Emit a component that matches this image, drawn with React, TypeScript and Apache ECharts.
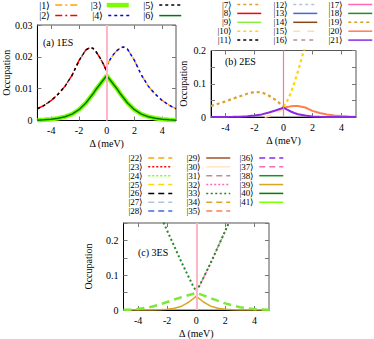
import React, { useEffect, useRef } from 'react';
import * as echarts from 'echarts';

const FONT = 'Liberation Serif, serif';

// ---------- data: panel (a) 1ES ----------
const deltaA_left = [-5, -4.5, -4, -3.5, -3, -2.5, -2, -1.5, -1.2, -1, -0.75, -0.5, -0.25, 0];
const occA_left = [0.0037, 0.0048, 0.0063, 0.0083, 0.0108, 0.0142, 0.0188, 0.0222, 0.0229, 0.0227, 0.0215, 0.0198, 0.0178, 0.0155];
const deltaA_right = [0, 0.25, 0.5, 0.75, 1, 1.2, 1.5, 2, 2.5, 3, 3.5, 4, 4.5, 5];
const occA_right = [0.0172, 0.0192, 0.0208, 0.022, 0.0228, 0.0231, 0.0224, 0.0189, 0.0143, 0.0108, 0.0083, 0.0063, 0.0048, 0.0037];
const deltaA_mid = [-5, -4.5, -4, -3.5, -3, -2.5, -2, -1.5, -1, -0.75, -0.5, -0.25, 0, 0.25, 0.5, 0.75, 1, 1.5, 2, 2.5, 3, 3.5, 4, 4.5, 5];
const occA_mid = [0.0001, 0.0002, 0.0004, 0.0007, 0.0012, 0.002, 0.0034, 0.0055, 0.0083, 0.0099, 0.0113, 0.0127, 0.0141, 0.0127, 0.0113, 0.0099, 0.0083, 0.0055, 0.0034, 0.002, 0.0012, 0.0007, 0.0004, 0.0002, 0.0001];

// ---------- data: panel (b) 2ES ----------
const deltaB7 = [-5, -4.5, -4, -3.5, -3, -2.5, -2, -1.5, -1, -0.5, 0];
const occB7 = [0.033, 0.04, 0.047, 0.055, 0.0625, 0.07, 0.0755, 0.074, 0.064, 0.05, 0.031];
const deltaB10 = [0, 0.25, 0.5, 0.75, 1, 1.25, 1.5];
const occB10 = [0.031, 0.048, 0.072, 0.103, 0.138, 0.176, 0.215];
const deltaB15 = [-1.3, -1, -0.75, -0.5, -0.25, 0];
const occB15 = [0, 0.003, 0.007, 0.012, 0.018, 0.024];
const deltaB20 = [0, 0.25, 0.5, 0.75, 1, 1.5, 2, 2.5, 3, 3.5, 4, 4.5, 5];
const occB20 = [0.026, 0.03, 0.032, 0.033, 0.033, 0.0285, 0.0185, 0.012, 0.0078, 0.0048, 0.0027, 0.0013, 0.0006];
const deltaB21 = [-5, -4.5, -4, -3.5, -3, -2.5, -2, -1.5, -1, -0.5, 0, 0.25, 0.5, 0.75, 1, 1.5, 2, 2.5, 3, 4, 5];
const occB21 = [0, 0.0001, 0.0003, 0.0006, 0.001, 0.0022, 0.0042, 0.0078, 0.0135, 0.0205, 0.028, 0.022, 0.0165, 0.012, 0.0085, 0.0042, 0.0018, 0.0007, 0.0003, 0.0001, 0];

// ---------- data: panel (c) 3ES ----------
const deltaC33 = [-2.5, -2, -1.5, -1, -0.5, -0.25, 0, 0.25, 0.5, 1, 1.5, 2, 2.5];
const occC33 = [0.275, 0.228, 0.182, 0.136, 0.093, 0.072, 0.054, 0.072, 0.093, 0.136, 0.182, 0.228, 0.275];
const deltaC32 = [0, 0.25, 0.5, 1, 1.5, 2, 2.5];
const occC32 = [0.054, 0.072, 0.093, 0.136, 0.182, 0.228, 0.275];
const deltaC39 = [-5, -4, -3, -2.5, -2, -1.5, -1, -0.75, -0.5, -0.25, 0, 0.25, 0.5, 0.75, 1, 1.5, 2, 2.5, 3, 4, 5];
const occC39 = [0, 0.0001, 0.0003, 0.001, 0.002, 0.005, 0.011, 0.017, 0.023, 0.031, 0.04, 0.031, 0.023, 0.017, 0.011, 0.005, 0.002, 0.001, 0.0003, 0.0001, 0];
const deltaCLime = [-5, -4.5, -4, -3.5, -3, -2.5, -2, -1.5, -1, -0.5, 0, 0.5, 1, 1.5, 2, 2.5, 3, 3.5, 4, 4.5, 5];
const occCLime = [0.0005, 0.001, 0.003, 0.006, 0.01, 0.016, 0.023, 0.03, 0.037, 0.043, 0.049, 0.042, 0.034, 0.026, 0.019, 0.013, 0.008, 0.005, 0.0025, 0.0012, 0.0005];

// ---------- ticks / labels ----------
const xTickValues = [-4, -2, 0, 2, 4];
const yTicksA = [0, 0.01, 0.02, 0.03];
const yTicksB = [0, 0.05, 0.1, 0.15, 0.2];
const yTicksC = [0, 0.05, 0.1, 0.15, 0.2, 0.25];
const yLabelsBC = [0, 0.1, 0.2];
const panelTitles = ['(a) 1ES', '(b) 2ES', '(c) 3ES'];
const xName = 'Δ (meV)';
const yName = 'Occupation';

const legendColsA = [[1, 2], [3, 4], [5, 6]];
const legendColsB = [[7, 8, 9, 10, 11], [12, 13, 14, 15, 16], [17, 18, 19, 20, 21]];
const legendColsC = [[22, 23, 24, 25, 26, 27, 28], [29, 30, 31, 32, 33, 34, 35], [36, 37, 38, 39, 40, 41]];

const ket = (n: number) => `|${n}⟩`;

// curve data per state
const curves: Record<number, [number[], number[]]> = {
  1: [deltaA_right, occA_right],
  2: [deltaA_left, occA_left],
  3: [deltaA_mid, occA_mid],
  4: [deltaA_right, occA_right],
  5: [deltaA_left, occA_left],
  6: [deltaA_mid, occA_mid],
  7: [deltaB7, occB7],
  10: [deltaB10, occB10],
  15: [deltaB15, occB15],
  20: [deltaB20, occB20],
  21: [deltaB21, occB21],
  32: [deltaC32, occC32],
  33: [deltaC33, occC33],
  39: [deltaC39, occC39],
};

// styles
const DD = [7, 3, 2, 3];
const DOT = [3, 3];
const DASH = [6, 4];
const styleOf: Record<number, [string, any, number]> = {
  1: ['#ffa500', DD, 1.5], 2: ['#ff0000', DD, 1.5], 3: ['#7cfc00', 'solid', 4.5],
  4: ['#0000ff', DOT, 1.5], 5: ['#000000', DOT, 1.5], 6: ['#007a00', 'solid', 1.5],
  7: ['#daa030', DOT, 2.2], 8: ['#ff0000', 'solid', 2], 9: ['#88f040', 'solid', 2],
  10: ['#ffd700', DOT, 2.2], 11: ['#000000', DOT, 2],
  12: ['#b0c4de', DOT, 2], 13: ['#4169e1', 'solid', 2], 14: ['#8b4513', 'solid', 2],
  15: ['#ffdead', [7, 7], 2], 16: ['#bc8f8f', [4, 4], 2],
  17: ['#ff69b4', 'solid', 2], 18: ['#228b22', 'solid', 2], 19: ['#d4a020', DOT, 2],
  20: ['#ff7f50', 'solid', 2], 21: ['#8a2be2', 'solid', 2],
  22: ['#ffa500', DASH, 1.5], 23: ['#ff0000', [2, 2], 1.5], 24: ['#7fff00', [2, 2], 1.5],
  25: ['#ffd700', DASH, 1.5], 26: ['#000000', DASH, 1.5], 27: ['#b0c4de', DASH, 1.5],
  28: ['#4169e1', DASH, 1.5],
  29: ['#a0522d', 'solid', 1.5], 30: ['#ffe4c4', 'solid', 1.5], 31: ['#bc8f8f', DASH, 1.5],
  32: ['#ff69b4', [2, 2], 1.5], 33: ['#228b22', [2, 2.5], 2], 34: ['#daa520', DASH, 1.5],
  35: ['#ff7f50', DASH, 1.5],
  36: ['#8a2be2', DASH, 1.5], 37: ['#ff69b4', DASH, 1.5], 38: ['#228b22', 'solid', 1.5],
  39: ['#daa520', 'solid', 1.5], 40: ['#008000', 'solid', 1.5], 41: ['#7fff00', 'solid', 1.5],
};

const zip = (xs: number[], ys: number[]) => xs.map((x, i) => [x, ys[i]]);

export default function App() {
  const ref = useRef<HTMLDivElement>(null);
  useEffect(() => {
    if (!ref.current) return;
    const chart = echarts.init(ref.current, undefined, { renderer: 'svg' });
    const W = 374;

    const grids = [
      { left: 35, top: 25, width: 141, height: 95.5 },
      { left: 211, top: 50.5, width: 145, height: 66.5 },
      { left: 123.5, top: 223, width: 145.5, height: 88 },
    ];
    const yMax = [0.03, 0.2, 0.25];
    const yInt = [0.01, 0.05, 0.05];
    const yTickSets = [yTicksA, yTicksB, yTicksC];
    const yLabelSets = [yTicksA, yLabelsBC, yLabelsBC];
    const yNameGap = [19, 23, 30];
    const pinkLine = [
      { color: '#ffb6c8', width: 2 },
      { color: '#ff6eb4', width: 1.2 },
      { color: '#ffb6c8', width: 2 },
    ];

    const txt = { fontFamily: FONT, fontSize: 10, color: '#000' };
    const tickStyle = { color: '#777' };

    const xAxes: any[] = [];
    const yAxes: any[] = [];
    for (let i = 0; i < 3; i++) {
      xAxes.push({
        type: 'value', gridIndex: i, position: 'bottom', min: -5, max: 5, interval: 1,
        name: xName, nameLocation: 'middle', nameGap: 18, nameTextStyle: txt,
        axisLine: { show: true, onZero: false, lineStyle: { color: '#000', width: 1 } },
        axisTick: { show: true, inside: true, length: 4, customValues: xTickValues, lineStyle: tickStyle },
        axisLabel: { ...txt, margin: 5, customValues: xTickValues, formatter: (v: number) => (Math.round(v) % 2 === 0 ? String(v) : '') },
        splitLine: { show: false },
      });
      yAxes.push({
        type: 'value', gridIndex: i, position: 'left', min: 0, max: yMax[i], interval: yInt[i],
        name: yName, nameLocation: 'middle', nameRotate: 90, nameGap: yNameGap[i], nameTextStyle: txt,
        axisLine: { show: true, onZero: false, lineStyle: { color: '#000', width: 1 } },
        axisTick: { show: true, inside: true, length: 4, customValues: yTickSets[i], lineStyle: tickStyle },
        axisLabel: {
          ...txt, margin: 5, customValues: yLabelSets[i],
          formatter: (v: number) => {
            const r = Math.round(v * 1000) / 1000;
            if (i > 0 && Math.abs(r * 10 - Math.round(r * 10)) > 1e-6) return '';
            return r === 0 ? '0' : String(r);
          },
        },
        splitLine: { show: false },
      });
    }
    // mirror axes (top / right ticks)
    for (let i = 0; i < 3; i++) {
      xAxes.push({
        type: 'value', gridIndex: i, position: 'top', min: -5, max: 5, interval: 1,
        axisLine: { show: false, onZero: false },
        axisTick: { show: true, inside: true, length: 4, customValues: xTickValues, lineStyle: tickStyle },
        axisLabel: { show: false },
        splitLine: { show: false },
      });
      yAxes.push({
        type: 'value', gridIndex: i, position: 'right', min: 0, max: yMax[i], interval: yInt[i],
        axisLine: { show: false, onZero: false },
        axisTick: { show: true, inside: true, length: 4, customValues: yTickSets[i], lineStyle: tickStyle },
        axisLabel: { show: false },
        splitLine: { show: false },
      });
    }

    const series: any[] = [];
    // vertical reference line at Δ = 0
    for (let i = 0; i < 3; i++) {
      series.push({
        type: 'line', name: 'ref' + i, xAxisIndex: i, yAxisIndex: i, data: [], silent: true,
        markLine: {
          silent: true, symbol: ['none', 'none'], label: { show: false },
          lineStyle: { type: 'solid', ...pinkLine[i] },
          data: [{ xAxis: 0 }],
        },
      });
    }
    const panelCols = [legendColsA, legendColsB, legendColsC];
    panelCols.forEach((cols, p) => {
      cols.flat().forEach((n) => {
        const [color, type, width] = styleOf[n];
        const c = curves[n];
        series.push({
          type: 'line', name: ket(n), xAxisIndex: p, yAxisIndex: p,
          data: c ? zip(c[0], c[1]) : [],
          symbol: 'none', showSymbol: false, silent: true, clip: true,
          lineStyle: { color, type, width },
          itemStyle: { color },
          z: 2,
        });
      });
    });
    // lime long-dashed curve in panel (c)
    series.push({
      type: 'line', name: ket(24), xAxisIndex: 2, yAxisIndex: 2,
      data: zip(deltaCLime, occCLime),
      symbol: 'none', showSymbol: false, silent: true, clip: true,
      lineStyle: { color: '#7ee83a', type: [8, 5], width: 2.5 },
      itemStyle: { color: '#7ee83a' },
      z: 3,
    });

    // one legend box per key entry, so that the samples line up in columns
    const legends: any[] = [];
    const addKey = (cols: number[][], iconRight: number[], firstCenter: number, rowStep: number, itemWidth: number, fontSize: number) => {
      cols.forEach((col, k) => {
        col.forEach((n, r) => {
          legends.push({
            orient: 'horizontal', align: 'right', padding: 0, selectedMode: false,
            itemWidth, itemHeight: 8,
            itemStyle: { opacity: 0 },
            lineStyle: { width: n === 3 ? 4.5 : 1.5 },
            textStyle: { ...txt, fontSize, lineHeight: 9 },
            right: W - iconRight[k],
            top: firstCenter + rowStep * r - 4.5,
            data: [ket(n)],
          });
        });
      });
    };
    addKey(legendColsA, [78, 131, 182], 4.6, 10.5, 22, 10);
    addKey(legendColsB, [262, 318, 373], 4.5, 8.9, 24, 9);
    addKey(legendColsC, [173, 231, 284], 158, 8.85, 24, 9);

    const titlePos = [
      { left: 43, top: 37 },
      { left: 225, top: 56 },
      { left: 138, top: 247 },
    ];

    chart.setOption({
      animation: false,
      backgroundColor: '#fff',
      title: panelTitles.map((t, i) => ({
        text: t, ...titlePos[i], padding: 0,
        textStyle: { ...txt, fontWeight: 'normal' },
      })),
      legend: legends,
      grid: grids.map((g) => ({ ...g, show: true, borderColor: '#555', borderWidth: 1, backgroundColor: 'transparent', containLabel: false })),
      xAxis: xAxes,
      yAxis: yAxes,
      series,
    });
    return () => chart.dispose();
  }, []);

  return <div ref={ref} style={{ position: 'fixed', left: 0, top: 0, width: 374, height: 339 }} />;
}
